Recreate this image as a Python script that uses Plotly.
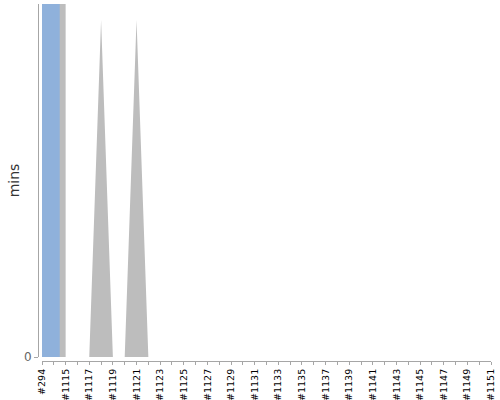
import plotly.graph_objects as go

# ---- data ----
builds = ["#294"] + ["#%d" % n for n in range(1114, 1152)]
# successful builds (blue), minutes
success_mins = [600, 600] + [0] * 37
# not built / earlier aborted (gray block), minutes
notbuilt_mins = [600, 600] + [0] * 37
# aborted builds (gray spikes), minutes
aborted_mins = [0, 0, 0, 0, 0, 9.55, 0, 0, 9.55] + [0] * 30
# tick labels: every other build shown
tick_text = [b if i % 2 == 0 else "" for i, b in enumerate(builds)]

Y_MAX = 10

BLUE = "#8fb1db"
GRAY = "#bdbdbd"
AXIS = "#a6a6a6"

fig = go.Figure()
fig.add_trace(go.Scatter(x=builds, y=notbuilt_mins, mode="lines", line=dict(width=0, shape="hv"),
                         fill="tozeroy", fillcolor=GRAY, hoverinfo="skip"))
fig.add_trace(go.Scatter(x=builds, y=aborted_mins, mode="lines", line=dict(width=0, shape="linear"),
                         fill="tozeroy", fillcolor=GRAY, hoverinfo="skip"))
fig.add_trace(go.Scatter(x=builds, y=success_mins, mode="lines", line=dict(width=0, shape="hvh"),
                         fill="tozeroy", fillcolor=BLUE, hoverinfo="skip"))

W, H = 500, 400
ml, mr, mt, mb = 38, 9, 4, 39
pw = W - ml - mr
ph = H - mt - mb

fig.update_layout(
    width=W, height=H,
    margin=dict(l=ml, r=mr, t=mt, b=mb, autoexpand=False),
    paper_bgcolor="white", plot_bgcolor="white",
    showlegend=False,
    font=dict(family="DejaVu Sans", color="#000000"),
    xaxis=dict(
        type="category",
        domain=[4 / pw, 1],
        anchor="free", position=0,
        range=[0, len(builds) - 1],
        automargin=False,
        showline=True, linecolor=AXIS, linewidth=1,
        ticks="outside", ticklen=3, tickcolor=AXIS, tickwidth=1,
        tickmode="array", tickvals=builds, ticktext=tick_text,
        tickangle=-90, tickfont=dict(size=9.5, color="#000000", family="DejaVu Sans"),
        showgrid=False, zeroline=False,
    ),
    yaxis=dict(
        domain=[4 / ph, 1],
        anchor="free", position=0,
        range=[0, Y_MAX],
        automargin=False,
        showline=True, linecolor=AXIS, linewidth=1,
        ticks="outside", ticklen=4, tickcolor=AXIS, tickwidth=1,
        tickmode="array", tickvals=[0], ticktext=["0"],
        tickfont=dict(size=12, color="#666666", family="DejaVu Sans"),
        title=dict(text="mins", font=dict(size=14, color="#333333", family="DejaVu Sans"), standoff=0),
        showgrid=False, zeroline=False,
    ),
)

fig.write_html("out.html",
               config={"displayModeBar": False},
               post_script="document.body.style.margin='0';document.body.style.padding='0';")
